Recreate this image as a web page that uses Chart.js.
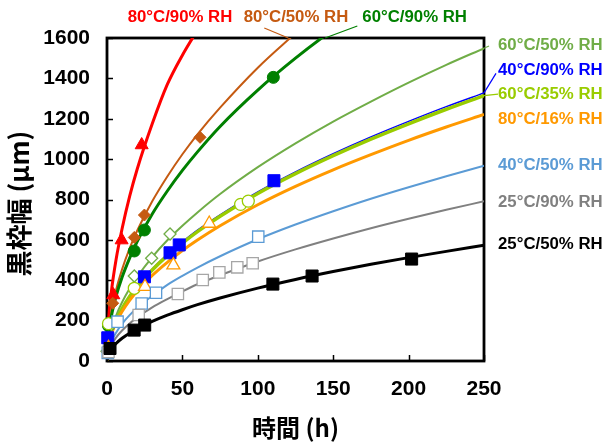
<!DOCTYPE html>
<html>
<head>
<meta charset="utf-8">
<script src="https://cdn.jsdelivr.net/npm/chart.js@4.4.0/dist/chart.umd.min.js"></script>
<style>
  html, body { margin: 0; padding: 0; background: #fff; }
  #c { display: block; }
</style>
</head>
<body>
<canvas id="c" width="606" height="444"></canvas>
<script>
// ---- trend curves (width vs. time) ----
const fitHours = [0, 1, 3, 6, 10, 15, 20, 30, 40, 50, 60, 75, 100, 125, 150, 175, 200, 225, 250];
const fit25c50 = [0, 35, 61, 87, 113, 138, 160, 196, 227, 254, 279, 312, 361, 404, 443, 479, 512, 543, 573];
const fit25c90 = [0, 46, 81, 116, 151, 186, 216, 266, 307, 345, 380, 425, 493, 553, 607, 658, 705, 749, 791];
const fit40c50 = [0, 56, 99, 140, 184, 227, 262, 323, 377, 422, 463, 519, 603, 676, 742, 804, 861, 915, 967];
const fit80c16 = [0, 78, 135, 190, 245, 300, 347, 424, 489, 547, 599, 670, 774, 865, 947, 1022, 1093, 1159, 1221];
const fit60c35 = [0, 81, 142, 200, 259, 319, 368, 451, 522, 584, 641, 717, 830, 928, 1017, 1099, 1175, 1247, 1315];
const fit40c90 = [0, 82, 143, 202, 262, 322, 372, 456, 527, 590, 648, 724, 838, 937, 1027, 1110, 1187, 1260, 1328];
const fit60c50 = [0, 88, 156, 224, 291, 359, 417, 515, 598, 670, 736, 827, 960, 1078, 1186, 1285, 1379, 1467, 1549];
const fitHours60c90 = [0, 1, 3, 6, 10, 15, 20, 30, 40, 50, 60, 75, 100, 125, 150, 175];
const fit60c90 = [0, 129, 225, 320, 415, 510, 592, 728, 842, 944, 1036, 1162, 1342, 1500, 1642, 1770];
const fitHours80c50 = [0, 1, 3, 6, 10, 15, 20, 30, 40, 50, 60, 75, 100, 125];
const fit80c50 = [0, 142, 247, 351, 454, 558, 645, 791, 914, 1024, 1123, 1255, 1453, 1624];
const fitHours80c90 = [0, 1, 3, 6, 10, 15, 20, 30, 40, 50, 60];
const fit80c90 = [0, 199, 350, 502, 655, 815, 950, 1175, 1370, 1515, 1640];

// ---- measured points ----
const hrs25c50 = [2, 18, 25, 110, 136, 202];
const val25c50 = [62, 153, 178, 381, 421, 505];
const hrs25c90 = [1, 21, 47, 63.5, 74.5, 86.4, 96.6];
const val25c90 = [45, 228, 332, 401, 439, 464, 484];
const hrs40c50 = [0.5, 7, 23, 32.5, 100.3];
const val40c50 = [40, 195, 285, 338, 616];
const hrs80c16 = [1, 25.2, 44, 67.8];
const val80c16 = [65, 368, 475, 681];
const hrs60c35 = [1, 18.1, 88.6, 93.7];
const val60c35 = [185, 360, 776, 792];
const hrs40c90 = [0.5, 24.8, 41.8, 47.9, 110.7];
const val40c90 = [115, 417, 536, 575, 893];
const hrs60c50 = [0, 3, 18.1, 29.6, 41.8];
const val60c50 = [48, 180, 421, 509, 629];
const hrs60c90 = [1, 18.1, 24.8, 110.3];
const val60c90 = [175, 545, 649, 1405];
const hrs80c50 = [3.8, 18.1, 24.8, 61.7];
const val80c50 = [286, 612, 723, 1108];
const hrs80c90 = [4.2, 9.7, 23];
const val80c90 = [327, 599, 1070];

const xTicks = [0, 50, 100, 150, 200, 250];
const yTicks = [0, 200, 400, 600, 800, 1000, 1200, 1400, 1600];

// series label text, colour, and label anchor (in µm for the right column, hours for the top row)
const rightLabels = [
  { text: '60°C/50% RH', color: '#70AD47', at: 1565 },
  { text: '40°C/90% RH', color: '#0000FF', at: 1438 },
  { text: '60°C/35% RH', color: '#99CC00', at: 1322 },
  { text: '80°C/16% RH', color: '#FF9900', at: 1199 },
  { text: '40°C/50% RH', color: '#5B9BD5', at: 971 },
  { text: '25°C/90% RH', color: '#808080', at: 788 },
  { text: '25°C/50% RH', color: '#000000', at: 580 }
];
const topLabels = [
  { text: '80°C/90% RH', color: '#FF0000', at: 48.4 },
  { text: '80°C/50% RH', color: '#C55A11', at: 125.3 },
  { text: '60°C/90% RH', color: '#008000', at: 204 }
];

const pts = (xs, ys) => xs.map((x, i) => ({ x: x, y: ys[i] }));

function curve(xs, ys, color, width) {
  return {
    data: pts(xs, ys), showLine: true, borderColor: color, borderWidth: width,
    pointRadius: 0, cubicInterpolationMode: 'monotone', order: 2
  };
}
function marks(xs, ys, style, radius, fill, stroke, bw) {
  return {
    data: pts(xs, ys), showLine: false, pointStyle: style, pointRadius: radius,
    backgroundColor: fill, borderColor: stroke, pointBorderWidth: bw, borderWidth: bw,
    clip: false, order: 1
  };
}

const datasets = [
  curve(fitHours, fit25c50, '#000000', 3),
  curve(fitHours, fit25c90, '#808080', 2),
  curve(fitHours, fit40c50, '#5B9BD5', 2),
  curve(fitHours, fit80c16, '#FF9900', 3),
  curve(fitHours, fit60c35, '#99CC00', 3.5),
  curve(fitHours, fit40c90, '#0000FF', 1.5),
  curve(fitHours, fit60c50, '#70AD47', 2),
  curve(fitHours60c90, fit60c90, '#008000', 3),
  curve(fitHours80c50, fit80c50, '#C55A11', 2),
  curve(fitHours80c90, fit80c90, '#FF0000', 3),

  marks(hrs25c50, val25c50, 'rect', 8.5, '#000000', '#000000', 1),
  marks(hrs25c90, val25c90, 'rect', 8, '#FFFFFF', '#A6A6A6', 1.3),
  marks(hrs40c50, val40c50, 'rect', 8, '#FFFFFF', '#5B9BD5', 1.3),
  marks(hrs80c16, val80c16, 'triangle', 7.5, '#FFFFFF', '#FF9900', 1.3),
  marks(hrs60c35, val60c35, 'circle', 6, '#FFFFFF', '#99CC00', 1.3),
  marks(hrs40c90, val40c90, 'rect', 8.5, '#0000FF', '#0000FF', 1),
  marks(hrs60c50, val60c50, 'rectRot', 6, '#FFFFFF', '#70AD47', 1.3),
  marks(hrs60c90, val60c90, 'circle', 6, '#008000', '#008000', 1),
  marks(hrs80c50, val80c50, 'rectRot', 6, '#C55A11', '#C55A11', 1),
  marks(hrs80c90, val80c90, 'triangle', 7.5, '#FF0000', '#FF0000', 1)
];

const LABEL_FONT = 'bold 16.8px "Liberation Sans", Arial, sans-serif';
const X_TITLE_FONT = 'bold 24px "Noto Sans CJK JP", sans-serif';
const Y_TITLE_FONT = 'bold 26px "Noto Sans CJK JP", sans-serif';
const TICK_FONT = { family: '"Liberation Sans", Arial, sans-serif', size: 21, weight: 'bold' };

const framePlugin = {
  id: 'frame',
  beforeDatasetsDraw(chart) {
    const { ctx, chartArea: a, scales } = chart;
    ctx.save();
    ctx.strokeStyle = '#000';
    ctx.lineWidth = 1.5;
    ctx.beginPath();
    yTicks.forEach(v => {
      const y = Math.round(scales.y.getPixelForValue(v)) + 0.5;
      ctx.moveTo(a.left, y); ctx.lineTo(a.left + 6, y);
    });
    xTicks.forEach(v => {
      const x = Math.round(scales.x.getPixelForValue(v)) + 0.5;
      ctx.moveTo(x, a.bottom); ctx.lineTo(x, a.bottom - 6);
    });
    ctx.stroke();
    ctx.lineWidth = 2.8;
    ctx.strokeRect(a.left, a.top, a.right - a.left, a.bottom - a.top);
    ctx.restore();
  },
  afterDatasetsDraw(chart) {
    const { ctx, chartArea: a, scales } = chart;
    const X = v => scales.x.getPixelForValue(v);
    const Y = v => scales.y.getPixelForValue(v);
    ctx.save();

    // leader lines
    ctx.lineWidth = 1.2;
    ctx.strokeStyle = '#C55A11';
    ctx.beginPath(); ctx.moveTo(X(120.2), a.top); ctx.lineTo(X(104.3), a.top - 10); ctx.stroke();
    ctx.strokeStyle = '#008000';
    ctx.beginPath(); ctx.moveTo(X(144.6), a.top); ctx.lineTo(X(166), a.top - 12); ctx.stroke();
    ctx.strokeStyle = '#0000FF';
    ctx.beginPath(); ctx.moveTo(a.right, Y(fit40c90[fit40c90.length - 1])); ctx.lineTo(a.right + 12, Y(1425)); ctx.stroke();
    ctx.strokeStyle = '#99CC00';
    ctx.beginPath(); ctx.moveTo(a.right, Y(fit60c35[fit60c35.length - 1])); ctx.lineTo(a.right + 14, Y(1322)); ctx.stroke();
    ctx.strokeStyle = '#70AD47';
    ctx.beginPath(); ctx.moveTo(a.right, Y(fit60c50[fit60c50.length - 1])); ctx.lineTo(a.right + 5, Y(1560)); ctx.stroke();

    // series labels
    ctx.font = LABEL_FONT;
    ctx.textBaseline = 'middle';
    ctx.textAlign = 'left';
    rightLabels.forEach(l => {
      ctx.fillStyle = l.color;
      ctx.fillText(l.text, a.right + 14, Y(l.at));
    });
    ctx.textAlign = 'center';
    topLabels.forEach(l => {
      ctx.fillStyle = l.color;
      ctx.fillText(l.text, X(l.at), a.top - 21);
    });

    // axis titles
    ctx.fillStyle = '#000';
    ctx.font = X_TITLE_FONT;
    ctx.textAlign = 'center';
    ctx.fillText('時間 (h)', (a.left + a.right) / 2, 428);
    ctx.font = Y_TITLE_FONT;
    ctx.translate(19, (a.top + a.bottom) / 2 + 4);
    ctx.rotate(-Math.PI / 2);
    ctx.fillText('黒枠幅 (µm)', 0, 0);
    ctx.restore();
  }
};

new Chart(document.getElementById('c'), {
  type: 'scatter',
  data: { datasets },
  options: {
    responsive: false,
    animation: false,
    devicePixelRatio: 1,
    layout: { padding: { left: 0, top: 38, right: 122, bottom: 0 } },
    plugins: { legend: { display: false }, tooltip: { enabled: false } },
    scales: {
      x: {
        type: 'linear', min: 0, max: 250,
        afterBuildTicks: s => { s.ticks = xTicks.map(v => ({ value: v })); },
        afterFit: s => { s.height = 83; },
        grid: { display: false, drawTicks: false },
        border: { display: false },
        ticks: { color: '#000', padding: 16, font: TICK_FONT, callback: v => String(v) }
      },
      y: {
        type: 'linear', min: 0, max: 1600,
        afterBuildTicks: s => { s.ticks = yTicks.map(v => ({ value: v })); },
        afterFit: s => { s.width = 107; },
        grid: { display: false, drawTicks: false },
        border: { display: false },
        ticks: { color: '#000', padding: 17, font: TICK_FONT, callback: v => String(v) }
      }
    }
  },
  plugins: [framePlugin]
});
</script>
</body>
</html>
